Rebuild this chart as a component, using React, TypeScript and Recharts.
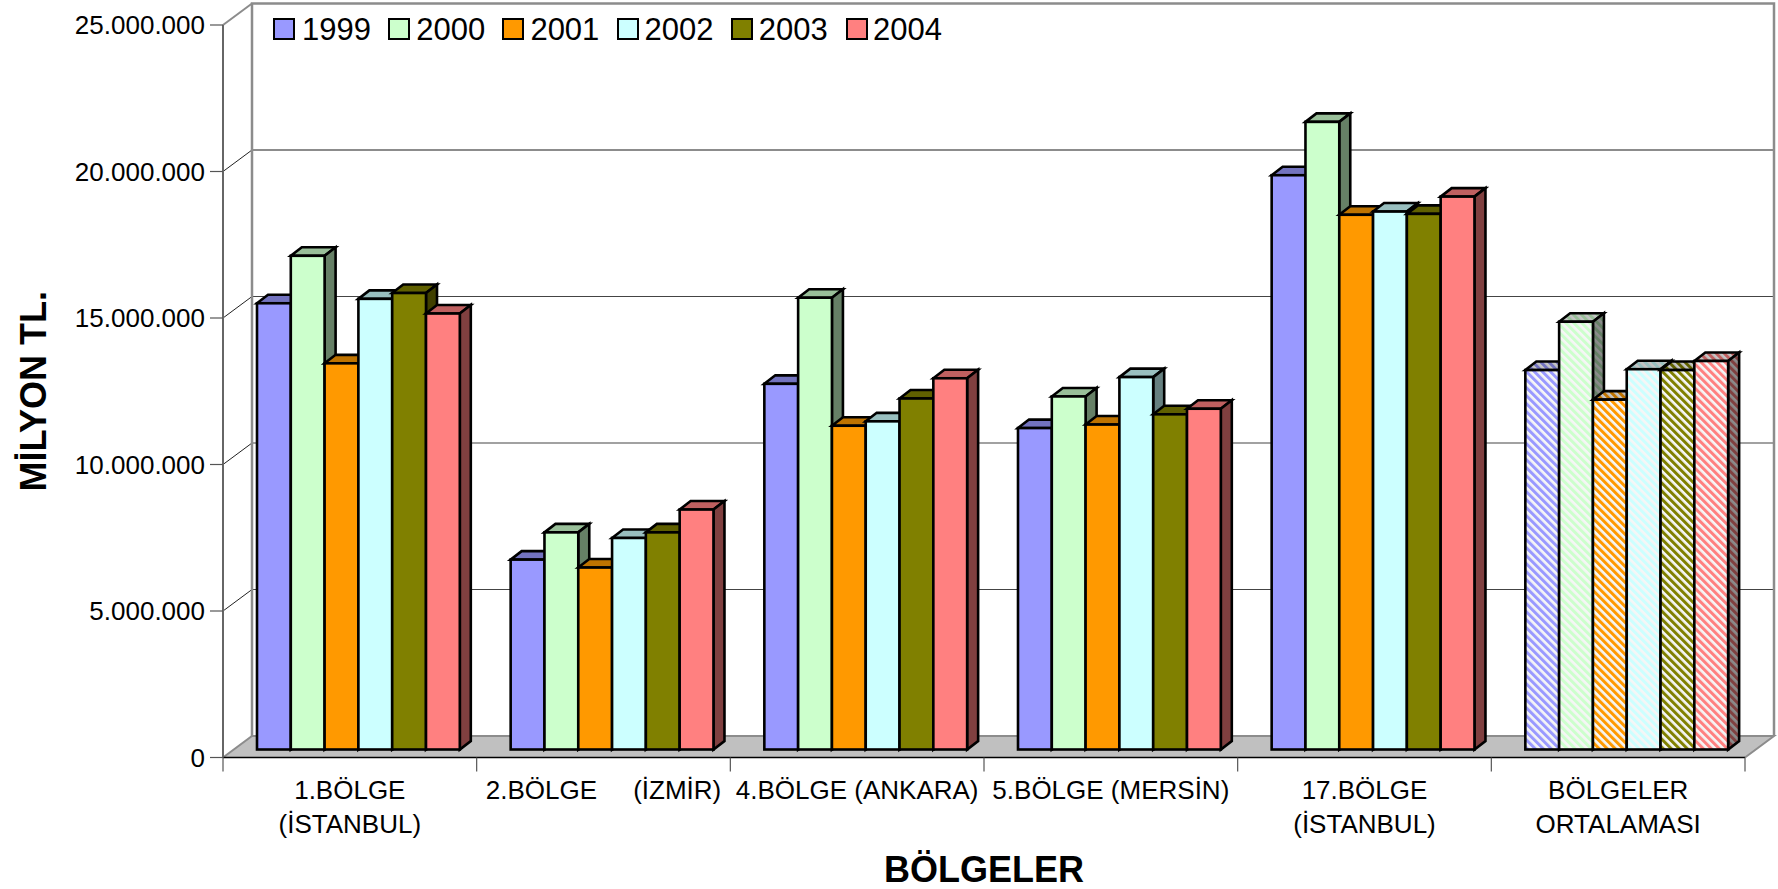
import React from 'react';
import { BarChart, Bar, XAxis, YAxis, CartesianGrid, Legend, usePlotArea } from 'recharts';

const categories = [
  '1.BÖLGE\n(İSTANBUL)',
  '2.BÖLGE\u00a0\u00a0\u00a0\u00a0\u00a0(İZMİR)',
  '4.BÖLGE (ANKARA)',
  '5.BÖLGE (MERSİN)',
  '17.BÖLGE\n(İSTANBUL)',
  'BÖLGELER\nORTALAMASI',
];
const years = ['1999', '2000', '2001', '2002', '2003', '2004'];
const v1999 = [15230000, 6480000, 12480000, 10970000, 19600000, 12950000];
const v2000 = [16850000, 7410000, 15420000, 12050000, 21420000, 14600000];
const v2001 = [13180000, 6210000, 11050000, 11090000, 18250000, 11940000];
const v2002 = [15380000, 7220000, 11200000, 12710000, 18360000, 12980000];
const v2003 = [15580000, 7410000, 11980000, 11440000, 18280000, 12950000];
const v2004 = [14880000, 8190000, 12670000, 11630000, 18870000, 13260000];
const seriesValues = [v1999, v2000, v2001, v2002, v2003, v2004];
const hatchedCategory = categories[5];
const yTicks = [0, 5000000, 10000000, 15000000, 20000000, 25000000];

const frontColors = ['#9999FF', '#CCFFCC', '#FF9900', '#CCFFFF', '#808000', '#FF8080'];
const topColors = ['#7373BF', '#99BF99', '#BF7300', '#99BFBF', '#606000', '#BF6060'];
const sideColors = ['#4D4D80', '#668066', '#804D00', '#668080', '#404000', '#804040'];

const data = categories.map((category, i) => {
  const row: Record<string, string | number> = { category };
  years.forEach((y, s) => { row[y] = seriesValues[s][i]; });
  return row;
});

const FONT = '"Liberation Sans", Arial, sans-serif';
const WALL_DX = 29;
const WALL_DY = -21.5;
const BAR_DX = 9;
const BAR_DY = -8;
const DEPTH_X = 11;
const DEPTH_Y = -8.5;
const WALL = '#8c8c8c';

const fmt = (v: number) => String(v).replace(/\B(?=(\d{3})+(?!\d))/g, '.');

function Stripe({ id, color, base }: { id: string; color: string; base: string }) {
  return (
    <pattern id={id} width={5.66} height={5.66} patternUnits="userSpaceOnUse" patternTransform="rotate(-45)">
      <rect width={5.66} height={5.66} fill={base} />
      <rect width={3} height={5.66} fill={color} />
    </pattern>
  );
}

function Walls() {
  const p = usePlotArea();
  if (!p) return null;
  const l = p.x, r = p.x + p.width, t = p.y, b = p.y + p.height;
  return (
    <g>
      <defs>
        {years.map((y, i) => (
          <React.Fragment key={y}>
            <Stripe id={`f${i}`} color={frontColors[i]} base="#f6f6f6" />
            <Stripe id={`t${i}`} color={topColors[i]} base="#c4c4c4" />
            <Stripe id={`s${i}`} color={sideColors[i]} base="#8a8a8a" />
          </React.Fragment>
        ))}
      </defs>
      <polygon
        points={`${l},${b} ${l + WALL_DX},${b + WALL_DY} ${r + WALL_DX},${b + WALL_DY} ${r},${b}`}
        fill="#c0c0c0"
      />
      <polyline
        points={`${l},${b} ${l + WALL_DX},${b + WALL_DY} ${r + WALL_DX},${b + WALL_DY} ${r},${b}`}
        fill="none"
        stroke={WALL}
        strokeWidth={2}
      />
      <polyline
        points={`${l + WALL_DX},${b + WALL_DY} ${l + WALL_DX},${t + WALL_DY} ${r + WALL_DX},${t + WALL_DY} ${r + WALL_DX},${b + WALL_DY}`}
        fill="none"
        stroke={WALL}
        strokeWidth={2.5}
      />
      <line x1={l} y1={t} x2={l + WALL_DX} y2={t + WALL_DY} stroke={WALL} strokeWidth={2} />
    </g>
  );
}

function GridLine(props: any) {
  const { x1, x2, y1, index } = props;
  const wy = y1 + WALL_DY;
  const isEdge = Math.abs(y1 - 757.5) < 1 || Math.abs(y1 - 25) < 1;
  if (isEdge) return <g />;
  const heavy = Math.abs(y1 - 171.5) < 2;
  return (
    <g key={index}>
      <line x1={x1} y1={y1} x2={x1 + WALL_DX} y2={wy} stroke="#222" strokeWidth={1} />
      <line x1={x1 + WALL_DX} y1={wy} x2={x2 + WALL_DX} y2={wy} stroke={heavy ? WALL : '#444'} strokeWidth={heavy ? 2 : 1.2} />
    </g>
  );
}

function Box3D(props: any) {
  const { x, y, width, height, seriesIndex, payload } = props;
  const hatched = payload.category === hatchedCategory;
  const X = x + BAR_DX;
  const Y = y + BAR_DY;
  const front = hatched ? `url(#f${seriesIndex})` : frontColors[seriesIndex];
  const top = hatched ? `url(#t${seriesIndex})` : topColors[seriesIndex];
  const side = hatched ? `url(#s${seriesIndex})` : sideColors[seriesIndex];
  const common = { stroke: '#000', strokeWidth: 2.6, strokeLinejoin: 'miter' as const };
  return (
    <g>
      <polygon
        points={`${X},${Y} ${X + DEPTH_X},${Y + DEPTH_Y} ${X + width + DEPTH_X},${Y + DEPTH_Y} ${X + width},${Y}`}
        fill={top}
        {...common}
      />
      <polygon
        points={`${X + width},${Y} ${X + width + DEPTH_X},${Y + DEPTH_Y} ${X + width + DEPTH_X},${Y + height + DEPTH_Y} ${X + width},${Y + height}`}
        fill={side}
        {...common}
      />
      <rect x={X} y={Y} width={width} height={height} fill={front} {...common} />
    </g>
  );
}

function CategoryTick(props: any) {
  const { x, y, index, payload, band } = props;
  const lines = String(payload.value).split('\n');
  const last = index === categories.length - 1;
  return (
    <g>
      <line x1={x - band / 2} y1={y} x2={x - band / 2} y2={y + 14} stroke="#555" strokeWidth={1.2} />
      {last && <line x1={x + band / 2} y1={y} x2={x + band / 2} y2={y + 14} stroke="#555" strokeWidth={1.2} />}
      <text x={x} textAnchor="middle" fontSize={26} fontFamily={FONT} fill="#000">
        {lines.map((t, i) => (
          <tspan key={i} x={x} y={y + 41 + i * 34}>{t}</tspan>
        ))}
      </text>
    </g>
  );
}

function LegendRow({ payload }: any) {
  return (
    <div style={{ position: 'relative', height: 0 }}>
      {(payload || []).map((e: any, i: number) => (
        <React.Fragment key={e.value}>
          <div
            style={{
              position: 'absolute', left: 273 + i * 114.6, top: 18, width: 18, height: 18,
              background: frontColors[i], border: '2.5px solid #000',
            }}
          />
          <div
            style={{
              position: 'absolute', left: 302 + i * 114.2, top: 12, fontSize: 31, lineHeight: '36px',
              fontFamily: FONT, color: '#000',
            }}
          >
            {e.value}
          </div>
        </React.Fragment>
      ))}
    </div>
  );
}

export default function App() {
  const band = 1522 / categories.length;
  return (
    <div style={{ position: 'absolute', left: 0, top: 0, width: 1778, height: 889, background: '#fff', overflow: 'hidden' }}>
      <BarChart
        width={1778}
        height={889}
        data={data}
        margin={{ top: 25, right: 33, bottom: 0, left: 0 }}
        barSize={33.8}
        barGap={0}
        style={{ fontFamily: FONT }}
      >
        <Walls />
        <CartesianGrid vertical={false} horizontal={(p: any) => <GridLine {...p} />} />
        <XAxis
          dataKey="category"
          height={131.5}
          interval={0}
          axisLine={{ stroke: '#000', strokeWidth: 1.5 }}
          tickLine={false}
          tickSize={0}
          tickMargin={0}
          tick={(p: any) => <CategoryTick {...p} band={band} />}
          label={{ value: 'BÖLGELER', position: 'center', dy: 46, style: { fontSize: 36, fontWeight: 700, fontFamily: FONT, fill: '#000' } }}
        />
        <YAxis
          width={223}
          domain={[0, 25000000]}
          ticks={yTicks}
          tickFormatter={fmt}
          interval={0}
          axisLine={{ stroke: '#666', strokeWidth: 2 }}
          tickLine={{ stroke: '#555', strokeWidth: 1.2 }}
          tickSize={13}
          tickMargin={5}
          tick={{ fontSize: 26, fontFamily: FONT, fill: '#000' }}
          label={{ value: 'MİLYON TL.', angle: -90, position: 'center', dx: -78, style: { fontSize: 36, fontWeight: 700, fontFamily: FONT, fill: '#000' } }}
        />
        <Legend verticalAlign="top" wrapperStyle={{ left: 0, top: 0, width: 1778, height: 0 }} content={(p: any) => <LegendRow {...p} />} />
        {years.map((y, i) => (
          <Bar
            key={y}
            dataKey={y}
            name={y}
            fill={frontColors[i]}
            isAnimationActive={false}
            shape={(p: any) => <Box3D {...p} seriesIndex={i} />}
          />
        ))}
      </BarChart>
    </div>
  );
}
